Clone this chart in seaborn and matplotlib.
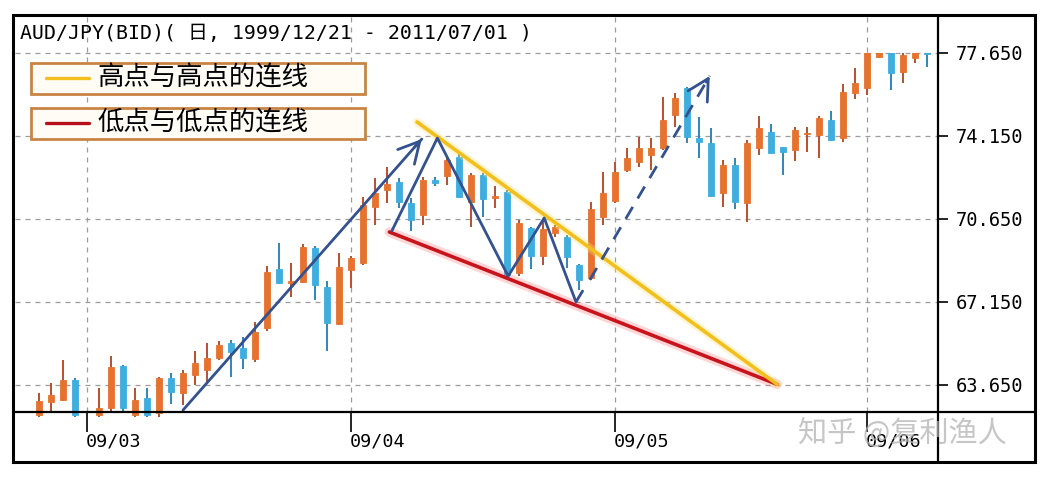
import numpy as np
import pandas as pd
import matplotlib
matplotlib.use("Agg")
import matplotlib.pyplot as plt
import matplotlib.transforms as mtransforms
from matplotlib.patches import Rectangle
from matplotlib.lines import Line2D
import seaborn as sns

# ---------------- data ----------------
day_index = [0, 1, 2, 3, 5, 6, 7, 8, 9, 10, 11, 12, 13, 14, 15, 16, 17, 18, 19, 20,
             21, 22, 23, 24, 25, 26, 27, 28, 29, 30, 31, 32, 33, 34, 35, 36, 37, 38, 39, 40,
             41, 42, 43, 44, 45, 46, 47, 48, 49, 50, 51, 52, 53, 54, 55, 56, 57, 58, 59, 60,
             61, 62, 63, 64, 65, 66, 67, 68, 69, 70, 71, 72, 73, 74]
open_px = [62.40, 62.94, 63.02, 63.86, 62.40, 62.67, 64.45, 62.40, 63.09, 62.45,
           63.93, 63.30, 64.07, 64.28, 64.77, 65.41, 65.20, 64.73, 66.04, 68.53,
           67.95, 68.00, 69.41, 67.79, 66.22, 68.50, 68.78, 71.17, 71.87, 72.22,
           71.31, 70.82, 72.29, 72.48, 73.28, 71.38, 72.50, 71.55, 71.80, 68.36,
           70.26, 69.09, 70.06, 69.90, 68.71, 68.18, 70.75, 71.41, 72.72, 73.07,
           73.35, 73.63, 75.04, 76.16, 74.05, 73.84, 71.73, 72.93, 71.31, 73.63,
           74.33, 73.67, 73.56, 74.22, 74.19, 74.82, 74.05, 75.95, 76.16, 77.50,
           78.00, 76.86, 77.43, 77.70]
high_px = [63.32, 63.73, 64.70, 63.94, 63.52, 64.87, 64.49, 63.52, 63.52, 64.00,
           64.17, 64.28, 65.09, 65.43, 65.52, 65.55, 65.66, 66.32, 68.67, 69.62,
           68.81, 69.60, 69.51, 68.05, 69.23, 69.09, 71.59, 72.37, 72.85, 72.37,
           71.52, 72.42, 72.43, 73.28, 73.39, 72.58, 72.58, 72.02, 71.87, 70.61,
           70.32, 70.61, 70.40, 69.97, 68.75, 71.37, 72.64, 73.07, 73.63, 74.12,
           74.05, 75.81, 75.95, 76.22, 74.96, 74.47, 73.14, 73.21, 73.98, 74.99,
           74.66, 73.70, 74.54, 74.54, 74.99, 75.22, 76.34, 77.00, 78.00, 78.10,
           78.20, 77.90, 78.00, 77.80]
low_px = [62.30, 62.55, 62.97, 62.30, 62.30, 62.52, 62.55, 62.30, 62.30, 62.30,
          62.85, 62.80, 63.65, 63.79, 64.70, 64.00, 64.31, 64.62, 65.93, 67.91,
          67.37, 67.95, 67.23, 65.09, 66.18, 67.73, 68.71, 70.40, 71.34, 71.10,
          70.16, 70.40, 72.02, 72.08, 71.52, 70.32, 70.73, 71.11, 68.20, 68.25,
          68.54, 68.71, 69.89, 68.60, 67.65, 68.08, 70.40, 71.31, 72.64, 72.85,
          72.72, 73.56, 74.54, 73.84, 73.21, 71.59, 71.17, 71.06, 70.53, 73.35,
          73.42, 72.50, 73.11, 73.49, 73.21, 73.95, 73.91, 75.70, 75.88, 77.45,
          76.09, 76.37, 77.22, 77.07]
close_px = [62.97, 63.23, 63.86, 62.40, 62.68, 64.42, 62.67, 63.01, 62.40, 63.93,
            63.37, 64.14, 64.56, 64.77, 65.33, 65.05, 64.77, 65.90, 68.43, 67.94,
            68.05, 69.48, 67.87, 66.27, 68.64, 68.99, 71.24, 71.73, 72.13, 71.38,
            70.61, 72.29, 72.15, 73.12, 71.59, 72.50, 71.49, 71.62, 68.29, 70.50,
            69.09, 70.23, 70.31, 69.05, 68.08, 71.07, 71.73, 72.61, 73.21, 73.63,
            73.63, 74.82, 75.74, 74.12, 73.91, 71.62, 72.93, 71.38, 73.84, 74.47,
            73.43, 73.49, 74.40, 74.25, 74.90, 73.98, 76.02, 76.37, 77.90, 77.90,
            76.79, 77.57, 77.80, 77.60]

month_ticks = [4, 26, 48, 69]
month_labels = ["09/03", "09/04", "09/05", "09/06"]
price_ticks = [63.65, 67.15, 70.65, 74.15, 77.65]
price_top_clip = 77.65

# hand-drawn lines on the chart (day index, price)
highs_line_x = [31.5, 61.5]
highs_line_y = [74.74, 63.68]
lows_line_x = [29.2, 61.5]
lows_line_y = [70.10, 63.68]
rise_arrow_x = [12.0, 31.9]
rise_arrow_y = [62.59, 74.02]
zigzag_x = [29.4, 33.2, 39.1, 42.1, 44.75, 45.3]
zigzag_y = [70.14, 74.06, 68.24, 70.69, 67.15, 67.61]
breakout_x = [45.9, 55.9]
breakout_y = [68.08, 76.68]

title_text = "AUD/JPY(BID)( 日, 1999/12/21 - 2011/07/01 )"
legend_labels = ["高点与高点的连线", "低点与低点的连线"]
watermark = "知乎 @复利渔人"

# ---------------- styling ----------------
sns.set_theme(style="white")
plt.rcParams["font.family"] = ["DejaVu Sans Mono", "Noto Sans CJK SC"]

W, H = 1052, 480
fig = plt.figure(figsize=(W / 100, H / 100), dpi=100)
fig.patch.set_facecolor("white")


def fx(x):
    return x / W


def fy(y):
    return 1 - y / H


ax = fig.add_axes([fx(15), fy(412), fx(938) - fx(15), (412 - 15) / H])
ax.set_facecolor("white")
ax.set_xlim(-2.0, 74.92)
ax.set_ylim(62.51, 79.25)
for s in ax.spines.values():
    s.set_visible(False)

ORANGE = "#e6722d"
ORANGE_WICK = "#b8502a"
BLUE = "#3eaee0"
BLUE_WICK = "#2c86bb"
NAVY = "#34528f"
GRID = "#9c9c9c"

# grid
ax.set_xticks(month_ticks)
ax.set_yticks(price_ticks)
ax.grid(True, linestyle=(0, (4, 4)), color=GRID, linewidth=0.9)
ax.set_axisbelow(True)

# candles
df = pd.DataFrame(dict(idx=day_index, o=open_px, h=high_px, l=low_px, c=close_px))
clip_rect = Rectangle((-5, 55), 90, price_top_clip - 55, transform=ax.transData)
for is_up, body_c, wick_c in [(True, ORANGE, ORANGE_WICK), (False, BLUE, BLUE_WICK)]:
    sub = df[(df.c >= df.o) == is_up]
    wl = ax.vlines(sub.idx, sub.l, sub.h, color=wick_c, linewidth=1.4, zorder=3)
    wl.set_clip_path(clip_rect)
    heights = (sub.c - sub.o).abs().clip(lower=0.07)
    bars = ax.bar(sub.idx, heights, bottom=np.minimum(sub.o, sub.c), width=0.56,
                  color=body_c, edgecolor=body_c, linewidth=0.6, zorder=4)
    for p in bars.patches:
        p.set_clip_path(clip_rect)

# trend lines (seaborn)
sns.lineplot(x=lows_line_x, y=lows_line_y, ax=ax, color="#ff5a5a", linewidth=7,
             alpha=0.25, zorder=5, legend=False)
sns.lineplot(x=lows_line_x, y=lows_line_y, ax=ax, color="#c8141c", linewidth=2.6,
             zorder=6, legend=False)
sns.lineplot(x=highs_line_x, y=highs_line_y, ax=ax, color="#ffe07a", linewidth=6,
             alpha=0.35, zorder=5, legend=False)
sns.lineplot(x=highs_line_x, y=highs_line_y, ax=ax, color="#f2bf1c", linewidth=2.6,
             zorder=6, legend=False)
sns.lineplot(x=rise_arrow_x, y=rise_arrow_y, ax=ax, color=NAVY, linewidth=2.0,
             zorder=7, legend=False, sort=False)
sns.lineplot(x=zigzag_x, y=zigzag_y, ax=ax, color=NAVY, linewidth=2.0,
             zorder=7, legend=False, sort=False, estimator=None)
n_before = len(ax.lines)
sns.lineplot(x=breakout_x, y=breakout_y, ax=ax, color=NAVY, linewidth=2.0,
             zorder=7, legend=False, sort=False)
for ln in ax.lines[n_before:]:
    ln.set_linestyle((0, (5, 3.5)))


def head(xs, ys):
    x0, y0 = xs[0], ys[0]
    x1, y1 = xs[1], ys[1]
    t = 0.97
    ax.annotate("", xy=(x1, y1), xytext=(x0 + t * (x1 - x0), y0 + t * (y1 - y0)),
                arrowprops=dict(arrowstyle="->,head_length=0.75,head_width=0.4",
                                color=NAVY, lw=2.0, shrinkA=0, shrinkB=0,
                                mutation_scale=20), zorder=8)


head(rise_arrow_x, rise_arrow_y)
head(breakout_x, breakout_y)

# ticks
ax.tick_params(axis="x", bottom=True, top=False, labelbottom=False, length=14.5,
               width=1.2, color="black", direction="out")
ax.yaxis.tick_right()
ax.tick_params(axis="y", right=True, left=False, labelright=True, labelleft=False,
               length=7.5, width=1.2, color="black", direction="out", pad=5,
               labelsize=13.5, labelcolor="black")
ax.set_yticklabels([f"{v:.3f}" for v in price_ticks])

xlab_tr = mtransforms.blended_transform_factory(ax.transData, fig.transFigure)
for xt, lab in zip(month_ticks, month_labels):
    ax.text(xt - 0.1, fy(442), lab, transform=xlab_tr, ha="left", va="center",
            fontsize=13.2, color="black", clip_on=False)

# title
fig.text(fx(20), fy(33), title_text, ha="left", va="center", fontsize=14.3,
         color="black", family=["DejaVu Sans Mono", "Noto Sans CJK SC"])

# legend boxes
for i, (lab, col) in enumerate(zip(legend_labels, ["#f2bf1c", "#b8101a"])):
    top = 63 + i * 45
    fig.add_artist(Rectangle((fx(31), fy(top + 31)), fx(365) - fx(31), 31 / H,
                             transform=fig.transFigure, facecolor="#fffcf6",
                             edgecolor="#c98444", linewidth=2.0, zorder=10))
    fig.add_artist(Line2D([fx(46), fx(89)], [fy(top + 15), fy(top + 15)],
                          transform=fig.transFigure, color=col, linewidth=2.4,
                          zorder=11))
    fig.text(fx(97), fy(top + 15.5), lab, ha="left", va="center", fontsize=19,
             color="black", family=["Noto Sans CJK SC"], zorder=12)

# frame
fig.add_artist(Rectangle((fx(13), fy(462)), fx(1035) - fx(13), (462 - 15) / H,
                         transform=fig.transFigure, fill=False, edgecolor="black",
                         linewidth=2.2, zorder=20))
fig.add_artist(Line2D([fx(13), fx(1035)], [fy(412), fy(412)], transform=fig.transFigure,
                      color="black", linewidth=1.6, zorder=20))
fig.add_artist(Line2D([fx(938), fx(938)], [fy(15), fy(462)], transform=fig.transFigure,
                      color="black", linewidth=1.6, zorder=20))

# watermark
fig.text(fx(798), fy(435), watermark, ha="left", va="center", fontsize=21,
         color="#b4b4b4", alpha=0.75, family=["Noto Sans CJK SC"], zorder=25)

fig.savefig("out.png", dpi=100, facecolor="white")
